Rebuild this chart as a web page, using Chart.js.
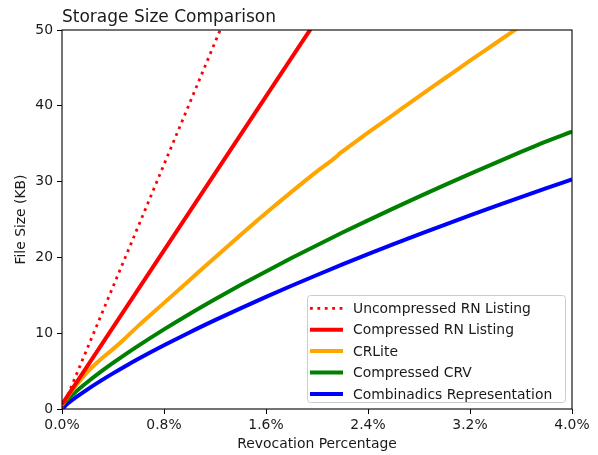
<!DOCTYPE html>
<html>
<head>
<meta charset="utf-8">
<script src="https://cdn.jsdelivr.net/npm/chart.js@4/dist/chart.umd.min.js"></script>
<style>
  html, body { margin: 0; padding: 0; background: #ffffff; }
  #wrap { width: 598px; height: 455px; }
</style>
</head>
<body>
<div id="wrap"><canvas id="chart" width="598" height="455"></canvas></div>
<script>
// Revocation percentage (x) and file size in KB (y) for each encoding
const chartTitle = 'Storage Size Comparison';
const xAxisTitle = 'Revocation Percentage';
const yAxisTitle = 'File Size (KB)';
const xTicks = [0, 0.8, 1.6, 2.4, 3.2, 4.0];
const yTicks = [0, 10, 20, 30, 40, 50];

const seriesNames = [
  'Uncompressed RN Listing',
  'Compressed RN Listing',
  'CRLite',
  'Compressed CRV',
  'Combinadics Representation'
];

const uncompressedPct = [0, 1.3];
const uncompressedKB  = [0, 52.4];

const compressedPct = [0, 0.5, 1.0, 1.5, 2.0];
const compressedKB  = [0.6, 13.3, 26.0, 38.7, 51.4];

const crlitePct = [0, 0.05, 0.1, 0.2, 0.3, 0.4, 0.5, 0.6, 0.8, 1.0, 1.2, 1.4, 1.6, 1.8, 2.0, 2.16, 2.18, 2.2, 2.4, 2.6, 2.8, 3.0, 3.2, 3.4, 3.6];
const crliteKB  = [0.5, 1.8, 2.9, 4.9, 6.5, 7.9, 9.4, 11.0, 14.0, 17.0, 20.0, 22.95, 25.85, 28.65, 31.35, 33.4, 33.75, 34.0, 36.45, 38.85, 41.25, 43.6, 45.95, 48.25, 50.55];

const curvePct = [0, 0.05, 0.1, 0.2, 0.3, 0.4, 0.5, 0.6, 0.8, 1.0, 1.2, 1.4, 1.6, 1.8, 2.0, 2.2, 2.4, 2.6, 2.8, 3.0, 3.2, 3.4, 3.6, 3.8, 4.0];
const crvKB         = [0.5, 1.38, 2.16, 3.56, 4.86, 6.08, 7.25, 8.37, 10.51, 12.54, 14.48, 16.35, 18.15, 19.91, 21.61, 23.28, 24.89, 26.47, 28.02, 29.54, 31.02, 32.48, 33.92, 35.32, 36.6];
const combinadicsKB = [0, 0.78, 1.43, 2.60, 3.68, 4.70, 5.68, 6.62, 8.40, 10.10, 11.72, 13.28, 14.79, 16.26, 17.68, 19.07, 20.42, 21.74, 23.03, 24.30, 25.54, 26.76, 27.96, 29.13, 30.29];

const seriesColors = ['#ff0000', '#ff0000', '#ffa500', '#008000', '#0000ff'];

const FONT = "'DejaVu Sans', 'Liberation Sans', sans-serif";
const TEXT = '#1a1a1a';

function pts(xs, ys) { return xs.map((x, i) => ({ x: x, y: ys[i] })); }

// Axes frame drawn on all four sides above the lines
const framePlugin = {
  id: 'frame',
  afterDatasetsDraw(chart) {
    const a = chart.chartArea, ctx = chart.ctx;
    ctx.save();
    ctx.strokeStyle = '#000';
    ctx.lineWidth = 1.1;
    ctx.strokeRect(a.left, a.top, a.right - a.left, a.bottom - a.top);
    ctx.restore();
  }
};

// Left-aligned title above the plot
const titlePlugin = {
  id: 'leftTitle',
  afterDraw(chart) {
    const ctx = chart.ctx, a = chart.chartArea;
    ctx.save();
    ctx.font = '17px ' + FONT;
    ctx.fillStyle = TEXT;
    ctx.textAlign = 'left';
    ctx.textBaseline = 'alphabetic';
    ctx.fillText(chartTitle, a.left, a.top - 8);
    ctx.restore();
  }
};

// Legend box in the lower right corner of the plot
const legendPlugin = {
  id: 'boxLegend',
  afterDraw(chart) {
    const ctx = chart.ctx, a = chart.chartArea;
    const ds = chart.data.datasets;
    const boxRight = a.right - 7, boxBottom = a.bottom - 7;
    const boxW = 258, boxH = 107;
    const bx = boxRight - boxW, by = boxBottom - boxH;
    ctx.save();
    ctx.beginPath();
    ctx.roundRect(bx + 0.5, by + 0.5, boxW, boxH, 3);
    ctx.fillStyle = 'rgba(255,255,255,0.85)';
    ctx.fill();
    ctx.strokeStyle = '#cccccc';
    ctx.lineWidth = 1;
    ctx.stroke();
    ctx.font = '13.9px ' + FONT;
    ctx.textBaseline = 'middle';
    ctx.textAlign = 'left';
    const rowH = 21.4;
    ds.forEach((d, i) => {
      const y = by + 13.3 + i * rowH;
      ctx.beginPath();
      ctx.strokeStyle = d.borderColor;
      ctx.lineWidth = d.borderWidth;
      ctx.setLineDash(d.borderDash || []);
      ctx.lineCap = 'butt';
      ctx.moveTo(bx + 3, y);
      ctx.lineTo(bx + 36, y);
      ctx.stroke();
      ctx.setLineDash([]);
      ctx.fillStyle = TEXT;
      ctx.fillText(d.label, bx + 46, y + 1);
    });
    ctx.restore();
  }
};

const datasets = [
  { label: seriesNames[0], data: pts(uncompressedPct, uncompressedKB), borderColor: seriesColors[0], borderWidth: 2.8, borderDash: [2.8, 4.6] },
  { label: seriesNames[1], data: pts(compressedPct, compressedKB), borderColor: seriesColors[1], borderWidth: 4 },
  { label: seriesNames[2], data: pts(crlitePct, crliteKB), borderColor: seriesColors[2], borderWidth: 4, cubicInterpolationMode: 'monotone' },
  { label: seriesNames[3], data: pts(curvePct, crvKB), borderColor: seriesColors[3], borderWidth: 4, cubicInterpolationMode: 'monotone' },
  { label: seriesNames[4], data: pts(curvePct, combinadicsKB), borderColor: seriesColors[4], borderWidth: 4, cubicInterpolationMode: 'monotone' }
].map(d => Object.assign({ pointRadius: 0, fill: false, backgroundColor: d.borderColor }, d));

new Chart(document.getElementById('chart'), {
  type: 'line',
  data: { datasets: datasets },
  options: {
    responsive: false,
    animation: false,
    devicePixelRatio: 1,
    layout: { padding: { top: 30, right: 26, left: 0, bottom: 0 } },
    plugins: { legend: { display: false }, title: { display: false }, tooltip: { enabled: false } },
    scales: {
      x: {
        type: 'linear',
        min: 0, max: 4,
        afterBuildTicks(scale) { scale.ticks = xTicks.map(v => ({ value: v })); },
        afterFit(scale) { scale.height = 46; },
        border: { display: false },
        grid: { display: true, drawOnChartArea: false, drawTicks: true, tickLength: 5, tickColor: '#000', tickWidth: 1 },
        ticks: {
          padding: 3,
          color: TEXT,
          font: { family: FONT, size: 13.9 },
          maxRotation: 0,
          callback: v => v.toFixed(1) + '%'
        },
        title: { display: true, text: xAxisTitle, color: TEXT, font: { family: FONT, size: 13.9 }, padding: { top: 0, bottom: 2.6 } }
      },
      y: {
        type: 'linear',
        min: 0, max: 50,
        afterBuildTicks(scale) { scale.ticks = yTicks.map(v => ({ value: v })); },
        afterFit(scale) { scale.width = 62; },
        border: { display: false },
        grid: { display: true, drawOnChartArea: false, drawTicks: true, tickLength: 5, tickColor: '#000', tickWidth: 1 },
        ticks: {
          padding: 4,
          color: TEXT,
          font: { family: FONT, size: 13.9 },
          callback: v => String(v)
        },
        title: { display: true, text: yAxisTitle, color: TEXT, font: { family: FONT, size: 13.9 }, padding: { top: 12.7, bottom: 0 } }
      }
    }
  },
  plugins: [framePlugin, titlePlugin, legendPlugin]
});
</script>
</body>
</html>
